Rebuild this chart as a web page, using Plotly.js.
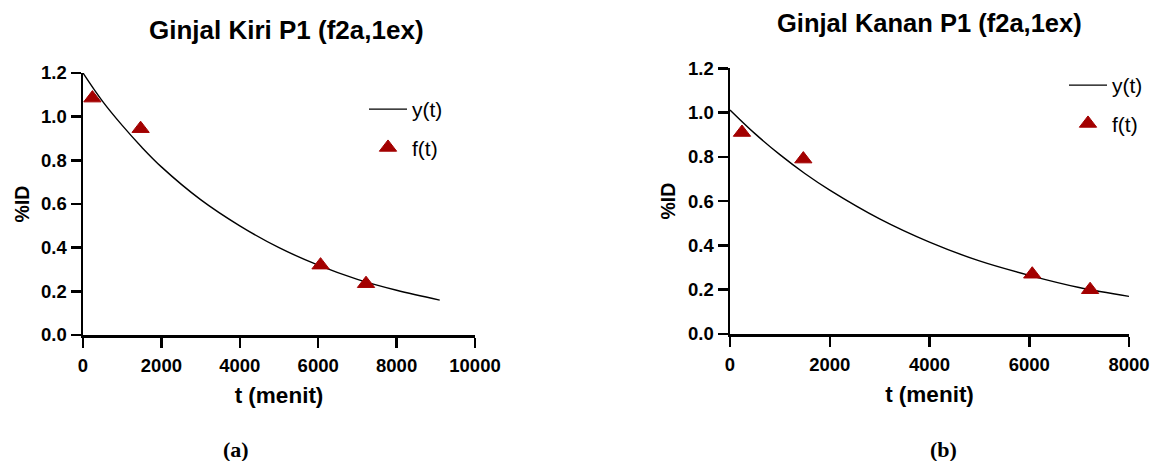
<!DOCTYPE html>
<html>
<head>
<meta charset="utf-8">
<script src="https://cdn.plot.ly/plotly-3.0.1.min.js"></script>
<style>html,body{margin:0;padding:0;background:#fff}#chart{width:1153px;height:461px}</style>
</head>
<body>
<div id="chart"></div>
<script>
// ---- Data ----
// Panel (a): Ginjal Kiri P1
const kiriTime = [240, 1470, 6060, 7220];          // t (menit), measured points
const kiriValue = [1.085, 0.945, 0.32, 0.235];     // %ID, f(t)
const kiriFitTime = [0, 500, 1000, 1500, 2000, 3000, 4000, 5000, 6000, 7000, 8000, 9100];
const kiriFitValue = [1.20, 1.07, 0.96, 0.86, 0.77, 0.62, 0.50, 0.40, 0.32, 0.255, 0.205, 0.16];

// Panel (b): Ginjal Kanan P1
const kananTime = [240, 1470, 6060, 7220];
const kananValue = [0.91, 0.79, 0.27, 0.20];
const kananFitTime = [0, 500, 1000, 1500, 2000, 3000, 4000, 5000, 6000, 7000, 8000];
const kananFitValue = [1.012, 0.905, 0.81, 0.725, 0.65, 0.52, 0.415, 0.33, 0.265, 0.21, 0.17];

const titles = ["Ginjal Kiri P1 (f2a,1ex)", "Ginjal Kanan P1 (f2a,1ex)"];
const captions = ["(a)", "(b)"];
const xTitle = "t (menit)";
const yTitle = "%ID";
const legendNames = ["y(t)", "f(t)"];

// ---- Styling ----
const W = 1153, H = 461;
const sans = "Liberation Sans, Arial, sans-serif";
const markerColor = "#A30000";

function dom(a, b, total, flip) {
  return flip ? [1 - b / total, 1 - a / total] : [a / total, b / total];
}

const markerStyle = {symbol: "triangle-up", size: 15, color: markerColor, line: {color: markerColor, width: 1}};

const traces = [
  {x: kiriFitTime, y: kiriFitValue, type: "scatter", mode: "lines", name: legendNames[0],
   line: {color: "#000", width: 1.4, shape: "spline"}, xaxis: "x", yaxis: "y",
   legend: "legend", legendgroup: "a1"},
  {x: kiriTime, y: kiriValue, type: "scatter", mode: "markers", name: legendNames[1],
   marker: markerStyle, xaxis: "x", yaxis: "y", legend: "legend", legendgroup: "a2"},
  {x: kananFitTime, y: kananFitValue, type: "scatter", mode: "lines", name: legendNames[0],
   line: {color: "#000", width: 1.4, shape: "spline"}, xaxis: "x2", yaxis: "y2",
   legend: "legend2", legendgroup: "b1"},
  {x: kananTime, y: kananValue, type: "scatter", mode: "markers", name: legendNames[1],
   marker: markerStyle, xaxis: "x2", yaxis: "y2", legend: "legend2", legendgroup: "b2"}
];

function axisBase() {
  return {
    showline: true, linecolor: "#000", linewidth: 2.5,
    ticks: "outside", ticklen: 10, tickwidth: 2.5, tickcolor: "#000",
    showgrid: false, zeroline: false, fixedrange: true,
    tickfont: {family: sans, size: 18.5, color: "#000", weight: "bold"}
  };
}

const xTitleFont = {family: sans, size: 22.5, color: "#000", weight: "bold"};
const yTitleFont = {family: sans, size: 19.5, color: "#000", weight: "bold"};

const xa = Object.assign(axisBase(), {
  domain: dom(83, 475, W), range: [0, 10000], dtick: 2000, tick0: 0, tickformat: "d", anchor: "y",
  ticklabelstandoff: 2,
  title: {text: xTitle, font: xTitleFont, standoff: 13}
});
const ya = Object.assign(axisBase(), {
  domain: dom(73, 335, H, true), range: [0, 1.2], dtick: 0.2, tick0: 0, tickformat: ".1f", anchor: "x",
  title: {text: yTitle, font: yTitleFont, standoff: 7}
});
const xa2 = Object.assign(axisBase(), {
  domain: dom(730, 1129, W), range: [0, 8000], dtick: 2000, tick0: 0, tickformat: "d", anchor: "y2",
  ticklabelstandoff: 2,
  title: {text: xTitle, font: xTitleFont, standoff: 13}
});
const ya2 = Object.assign(axisBase(), {
  domain: dom(68.3, 334, H, true), range: [0, 1.2], dtick: 0.2, tick0: 0, tickformat: ".1f", anchor: "x2",
  title: {text: yTitle, font: yTitleFont, standoff: 7}
});

const legendFont = {family: sans, size: 21, color: "#000"};
const layout = {
  width: W, height: H,
  margin: {l: 0, r: 0, t: 0, b: 0, pad: 0, autoexpand: false},
  paper_bgcolor: "#fff", plot_bgcolor: "#fff",
  showlegend: true,
  xaxis: xa, yaxis: ya, xaxis2: xa2, yaxis2: ya2,
  legend: {x: 364 / W, y: 1 - 89 / H, xanchor: "left", yanchor: "top", font: legendFont,
           bgcolor: "rgba(0,0,0,0)", borderwidth: 0, traceorder: "grouped", tracegroupgap: 8,
           itemwidth: 38},
  legend2: {x: 1064 / W, y: 1 - 65 / H, xanchor: "left", yanchor: "top", font: legendFont,
            bgcolor: "rgba(0,0,0,0)", borderwidth: 0, traceorder: "grouped", tracegroupgap: 8,
            itemwidth: 38},
  annotations: [
    {text: titles[0], x: 286.5 / W, y: 1 - 30 / H, xref: "paper", yref: "paper",
     xanchor: "center", yanchor: "middle", showarrow: false,
     font: {family: sans, size: 26, color: "#000", weight: "bold"}},
    {text: titles[1], x: 929 / W, y: 1 - 23 / H, xref: "paper", yref: "paper",
     xanchor: "center", yanchor: "middle", showarrow: false,
     font: {family: sans, size: 25.5, color: "#000", weight: "bold"}},
    {text: captions[0], x: 236 / W, y: 1 - 449 / H, xref: "paper", yref: "paper",
     xanchor: "center", yanchor: "middle", showarrow: false,
     font: {family: "Liberation Serif, DejaVu Serif, serif", size: 22, color: "#000", weight: "bold"}},
    {text: captions[1], x: 943 / W, y: 1 - 449 / H, xref: "paper", yref: "paper",
     xanchor: "center", yanchor: "middle", showarrow: false,
     font: {family: "Liberation Serif, DejaVu Serif, serif", size: 22, color: "#000", weight: "bold"}}
  ]
};

Plotly.newPlot("chart", traces, layout, {staticPlot: true, displayModeBar: false});
</script>
</body>
</html>
